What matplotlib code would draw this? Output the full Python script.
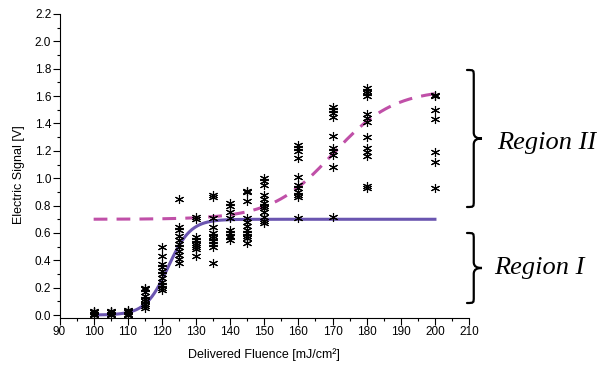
import matplotlib
matplotlib.use('Agg')
import matplotlib.pyplot as plt
from matplotlib.path import Path
from matplotlib.patches import PathPatch
from matplotlib.ticker import MultipleLocator
import numpy as np

# measured signal per fluence (mJ/cm2 -> V)
fluence = [100]*6 + [105]*5 + [110]*6 + [115]*9 + [120]*11 + [125]*11 + [130]*9 + \
          [135]*11 + [140]*9 + [145]*11 + [150]*12 + [160]*11 + [170]*10 + [180]*13 + [200]*7
signal = [0.0, 0.01, 0.02, 0.03, 0.01, 0.02,
          0.0, 0.01, 0.02, 0.03, 0.02,
          0.0, 0.0, 0.01, 0.02, 0.03, 0.04,
          0.05, 0.08, 0.1, 0.12, 0.14, 0.17, 0.19, 0.2, 0.07,
          0.5, 0.43, 0.35, 0.32, 0.3, 0.27, 0.24, 0.22, 0.2, 0.18, 0.37,
          0.85, 0.64, 0.62, 0.55, 0.52, 0.5, 0.47, 0.44, 0.41, 0.38, 0.58,
          0.72, 0.7, 0.57, 0.55, 0.53, 0.51, 0.5, 0.48, 0.43,
          0.88, 0.86, 0.71, 0.64, 0.6, 0.58, 0.56, 0.54, 0.52, 0.5, 0.38,
          0.82, 0.8, 0.75, 0.71, 0.62, 0.6, 0.58, 0.57, 0.55,
          0.91, 0.9, 0.83, 0.71, 0.68, 0.65, 0.62, 0.6, 0.58, 0.56, 0.53,
          1.0, 0.98, 0.95, 0.88, 0.85, 0.82, 0.8, 0.78, 0.75, 0.72, 0.69, 0.67,
          1.24, 1.22, 1.2, 1.15, 1.01, 0.95, 0.93, 0.9, 0.88, 0.86, 0.71,
          1.52, 1.5, 1.48, 1.45, 1.31, 1.22, 1.2, 1.17, 1.08, 0.72,
          1.66, 1.64, 1.62, 1.6, 1.47, 1.44, 1.41, 1.3, 1.22, 1.19, 1.16, 0.94, 0.93,
          1.61, 1.6, 1.5, 1.43, 1.19, 1.12, 0.93]

# sigmoid fit parameters: base, amplitude, centre, width
fit1 = (0.0, 0.70, 121.8, 3.3)   # region I
fit2 = (0.70, 0.95, 170.0, 9.0)  # region II
fit_range = (100, 200)

xticks = [90, 100, 110, 120, 130, 140, 150, 160, 170, 180, 190, 200, 210]
yticks = [0.0, 0.2, 0.4, 0.6, 0.8, 1.0, 1.2, 1.4, 1.6, 1.8, 2.0, 2.2]


def sigmoid(x, p):
    b, a, c, w = p
    return b + a/(1+np.exp(-(x-c)/w))


plt.rcParams['font.family'] = ['Liberation Sans']
fig = plt.figure(figsize=(5.97, 3.67), dpi=100)
ax = fig.add_axes([0.0997, 0.134, 0.686, 0.828])

xf = np.linspace(fit_range[0], fit_range[1], 400)
ax.plot(fluence, signal, linestyle='none', marker=(6, 2, 0), markersize=6.5,
        markeredgewidth=0.8, color='black', zorder=3)
ax.plot(xf, sigmoid(xf, fit1), color='#6a55b0', lw=2.2, zorder=2)
ax.plot(xf, sigmoid(xf, fit2), color='#c050a8', lw=2.2, dashes=(4.5, 3), zorder=2)

ax.set_xlim(90, 210)
ax.set_ylim(-0.02, 2.2)
ax.set_xticks(xticks)
ax.set_yticks(yticks)
ax.set_yticklabels(['%.1f' % v for v in yticks])
ax.xaxis.set_minor_locator(MultipleLocator(5))
ax.yaxis.set_minor_locator(MultipleLocator(0.1))
ax.tick_params(which='major', direction='out', length=5, width=0.8, labelsize=8.5, pad=1)
ax.tick_params(which='minor', direction='out', length=2.5, width=0.8)
for s in ['top', 'right']:
    ax.spines[s].set_visible(False)
ax.set_xlabel('Delivered Fluence [mJ/cm²]', fontsize=9, labelpad=7)
ax.set_ylabel('Electric Signal [V]', fontsize=9)
ax.yaxis.set_label_coords(-0.085, 0.47)

W, H = 597.0, 367.0


def brace(xl, yt, yb, w):
    # pixel coords measured from top-left
    ym = (yt+yb)/2.0
    r = 6.0
    xm = xl + w*0.45
    pts = [(xl, yt), (xm, yt), (xm, yt), (xm, yt+r),
           (xm, ym-r), (xm, ym-1), (xl+w*0.7, ym), (xl+w, ym),
           (xl+w*0.7, ym), (xm, ym+1), (xm, ym+r),
           (xm, yb-r), (xm, yb), (xm, yb), (xl, yb)]
    codes = [Path.MOVETO, Path.CURVE4, Path.CURVE4, Path.CURVE4,
             Path.LINETO, Path.CURVE4, Path.CURVE4, Path.CURVE4,
             Path.CURVE4, Path.CURVE4, Path.CURVE4,
             Path.LINETO, Path.CURVE4, Path.CURVE4, Path.CURVE4]
    verts = [(x/W, 1-y/H) for x, y in pts]
    fig.patches.append(PathPatch(Path(verts, codes), transform=fig.transFigure,
                                 fill=False, lw=1.6, edgecolor='black', capstyle='round'))


brace(467, 70, 207, 15)
brace(467, 233, 303, 15)
fig.text(497/W, 1-143/H, 'Region II', family='Liberation Serif', style='italic',
         fontsize=19, va='center', ha='left')
fig.text(494/W, 1-268/H, 'Region I', family='Liberation Serif', style='italic',
         fontsize=19, va='center', ha='left')

fig.savefig('out.png', dpi=100)
